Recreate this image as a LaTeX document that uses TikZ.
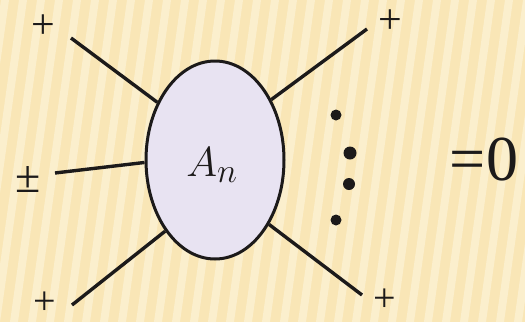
\RequirePackage{fix-cm}
\documentclass[tikz,border=0pt]{standalone}
\usepackage{fontspec}
\setmainfont{Liberation Serif}
\usetikzlibrary{positioning,shapes.geometric}
\DeclareMathSizes{42}{42}{34}{28}
\definecolor{bgyellow}{RGB}{249,230,182}
\definecolor{bgstripe}{RGB}{253,243,215}
\definecolor{blobfill}{RGB}{232,227,242}
\definecolor{inkline}{RGB}{28,26,26}

\begin{document}
\begin{tikzpicture}[x=1pt,y=-1pt,
  leg/.style={draw=inkline, line width=3.4pt},
  sign/.style={inner sep=0pt, text=inkline},
  dot/.style={circle, fill=inkline, inner sep=0pt}]
  % Background
  \fill[bgyellow] (0,0) rectangle (525,322);
  \begin{scope}
    \clip (0,0) rectangle (525,322);
    \foreach \s in {-80,-62,...,540}
      \fill[bgstripe, opacity=0.7] (\s,322) -- ++(8,0) -- ++(45,-322) -- ++(-8,0) -- cycle;
  \end{scope}
  \useasboundingbox (0,0) rectangle (525,322);

  % Amplitude blob
  \node[ellipse, draw=inkline, line width=3pt, fill=blobfill, minimum width=138pt, minimum height=198pt, inner sep=0pt] (blob) at (215,160) {};
  \node[sign, font=\fontsize{42}{42}\selectfont] (amp) at (212,165) {$A_n$};

  % External legs
  \coordinate (ul) at (71,38);
  \coordinate (ml) at (55,173);
  \coordinate (ll) at (72,305);
  \coordinate (ur) at (367,29);
  \coordinate (lr) at (362,295);
  \draw[leg] (blob.135) -- (ul);
  \draw[leg] (blob.182) -- (ml);
  \draw[leg] (blob.235) -- (ll);
  \draw[leg] (blob.47) -- (ur);
  \draw[leg] (blob.310) -- (lr);

  % Helicities
  \node[sign, font=\fontsize{42}{42}\selectfont] (hul) at (43,27) {+};
  \node[sign, font=\fontsize{46}{46}\selectfont] (hml) at (28,180) {±};
  \node[sign, font=\fontsize{40}{40}\selectfont] (hll) at (45,303) {+};
  \node[sign, font=\fontsize{42}{42}\selectfont] (hur) at (390,22) {+};
  \node[sign, font=\fontsize{40}{40}\selectfont] (hlr) at (385,300) {+};

  % Dots
  \node[dot, minimum size=11pt] (d1) at (336,115) {};
  \node[dot, minimum size=13pt] (d2) at (350,153) {};
  \node[dot, minimum size=12pt] (d3) at (349,184) {};
  \node[dot, minimum size=11pt] (d4) at (336,220) {};

  \node[sign, font=\fontsize{64}{64}\selectfont] (eq) at (484,160) {=0};
\end{tikzpicture}
\end{document}
